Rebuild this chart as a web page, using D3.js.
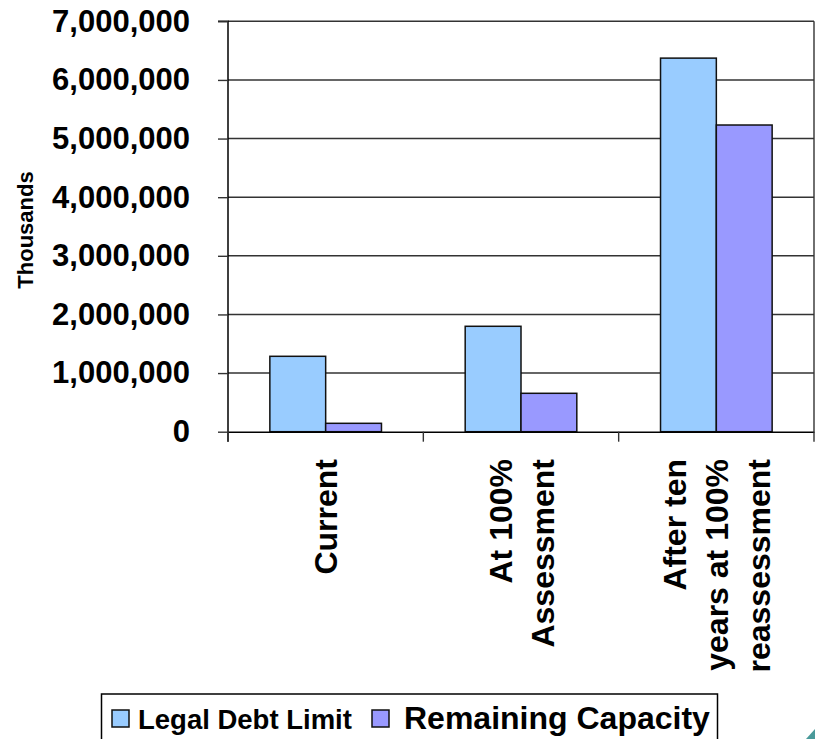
<!DOCTYPE html>
<html>
<head>
<meta charset="utf-8">
<script src="https://cdn.jsdelivr.net/npm/d3@7"></script>
<style>
  html, body { margin: 0; padding: 0; background: #ffffff; }
  svg { display: block; }
  text { font-family: "Liberation Sans", Arial, Helvetica, sans-serif; font-weight: bold; fill: #000; }
</style>
</head>
<body>
<svg id="chart" width="815" height="739"></svg>
<script>
// Debt capacity scenarios (values in thousands of dollars)
const categories = ["Current", "At 100% Assessment", "After ten years at 100% reassessment"];
const categoryLines = [["Current"], ["At 100%", "Assessment"], ["After ten", "years at 100%", "reassessment"]];
const seriesNames = ["Legal Debt Limit", "Remaining Capacity"];
const legalDebtLimit = [1286000, 1798000, 6372000];
const remainingCapacity = [143000, 655000, 5231000];
const yTicks = [0, 1000000, 2000000, 3000000, 4000000, 5000000, 6000000, 7000000];
const colors = ["#99ccff", "#9999ff"];

const svg = d3.select("#chart");
const plotLeft = 228, plotRight = 814, plotTop = 21.3, plotBottom = 431.7;

const x = d3.scaleBand().domain(categories).range([plotLeft, plotRight]).paddingInner(0).paddingOuter(0);
// Two bars per group, gap between groups = 1.5 bar widths
const barW = x.bandwidth() / 3.5;
const xs = d3.scaleBand().domain(seriesNames).range([0, 2 * barW]);
const y = d3.scaleLinear().domain([0, 7000000]).range([plotBottom, plotTop]);

// Horizontal gridlines
svg.append("g").selectAll("line").data(yTicks.slice(1)).join("line")
  .attr("x1", plotLeft).attr("x2", plotRight)
  .attr("y1", d => y(d)).attr("y2", d => y(d))
  .attr("stroke", "#333").attr("stroke-width", 1.4);

// Right border of the plot
svg.append("line").attr("x1", plotRight).attr("x2", plotRight).attr("y1", y(7000000)).attr("y2", plotBottom)
  .attr("stroke", "#333").attr("stroke-width", 1.4);

// Bars
const rows = categories.map((c, i) => ({ c, vals: [legalDebtLimit[i], remainingCapacity[i]] }));
const groups = svg.append("g").selectAll("g").data(rows).join("g")
  .attr("transform", d => `translate(${x(d.c) + (x.bandwidth() - 2 * barW) / 2},0)`);
groups.selectAll("rect").data(d => d.vals.map((v, k) => ({ v, k }))).join("rect")
  .attr("x", d => xs(seriesNames[d.k]))
  .attr("width", xs.bandwidth())
  .attr("y", d => y(d.v))
  .attr("height", d => y(0) - y(d.v))
  .attr("fill", d => colors[d.k])
  .attr("stroke", "#111").attr("stroke-width", 1.5);

// Y axis
const yAxis = svg.append("g").attr("transform", `translate(${plotLeft},0)`)
  .call(d3.axisLeft(y).tickValues(yTicks).tickFormat(d3.format(",")).tickSize(10).tickPadding(28));
yAxis.select(".domain").attr("stroke", "#000").attr("stroke-width", 1.5)
  .attr("d", `M-10,${plotTop}H0V${plotBottom + 10}`);
yAxis.selectAll(".tick line").attr("stroke", "#333").attr("stroke-width", 1.4);
yAxis.selectAll(".tick text").attr("font-size", 31).attr("font-weight", "bold")
  .attr("font-family", "Liberation Sans, Arial, sans-serif").attr("fill", "#000");

// X axis line and tick marks at the category boundaries
const xAxis = svg.append("g").attr("transform", `translate(0,${plotBottom})`)
  .call(d3.axisBottom(x).tickSize(0).tickFormat(""));
xAxis.select(".domain").attr("stroke", "#000").attr("stroke-width", 1.5);
const bounds = categories.map(c => x(c)).concat([x.range()[1]]);
svg.append("g").selectAll("line").data(bounds).join("line")
  .attr("x1", d => d).attr("x2", d => d)
  .attr("y1", plotBottom).attr("y2", plotBottom + 10)
  .attr("stroke", "#333").attr("stroke-width", 1.4);

// Category labels, rotated, one text per line
const lineGap = 42;
categoryLines.forEach((lines, i) => {
  const cx = x(categories[i]) + x.bandwidth() / 2;
  lines.forEach((ln, j) => {
    const off = (j - (lines.length - 1) / 2) * lineGap;
    svg.append("text")
      .attr("transform", `translate(${cx + off},459) rotate(-90)`)
      .attr("text-anchor", "end")
      .attr("dy", "0.36em")
      .attr("font-size", 32)
      .text(ln);
  });
});

// Y axis title
svg.append("text")
  .attr("transform", "translate(25,230) rotate(-90)")
  .attr("text-anchor", "middle")
  .attr("dy", "0.36em")
  .attr("font-size", 22)
  .text("Thousands");

// Legend
const legend = svg.append("g");
legend.append("rect").attr("x", 101.5).attr("y", 694).attr("width", 616).attr("height", 60)
  .attr("fill", "#fff").attr("stroke", "#000").attr("stroke-width", 1.5);
const legendItems = [
  { name: seriesNames[0], color: colors[0], sx: 112, tx: 138, size: 27.5 },
  { name: seriesNames[1], color: colors[1], sx: 372, tx: 404, size: 32 }
];
legendItems.forEach(it => {
  legend.append("rect").attr("x", it.sx).attr("y", 710).attr("width", 17).attr("height", 17)
    .attr("fill", it.color).attr("stroke", "#111").attr("stroke-width", 1.5);
  legend.append("text").attr("x", it.tx).attr("y", 729).attr("font-size", it.size).text(it.name);
});

// Small corner accent
svg.append("path").attr("d", "M815,729 L815,739 L806,739 Z").attr("fill", "#4a9a9a");
</script>
</body>
</html>
